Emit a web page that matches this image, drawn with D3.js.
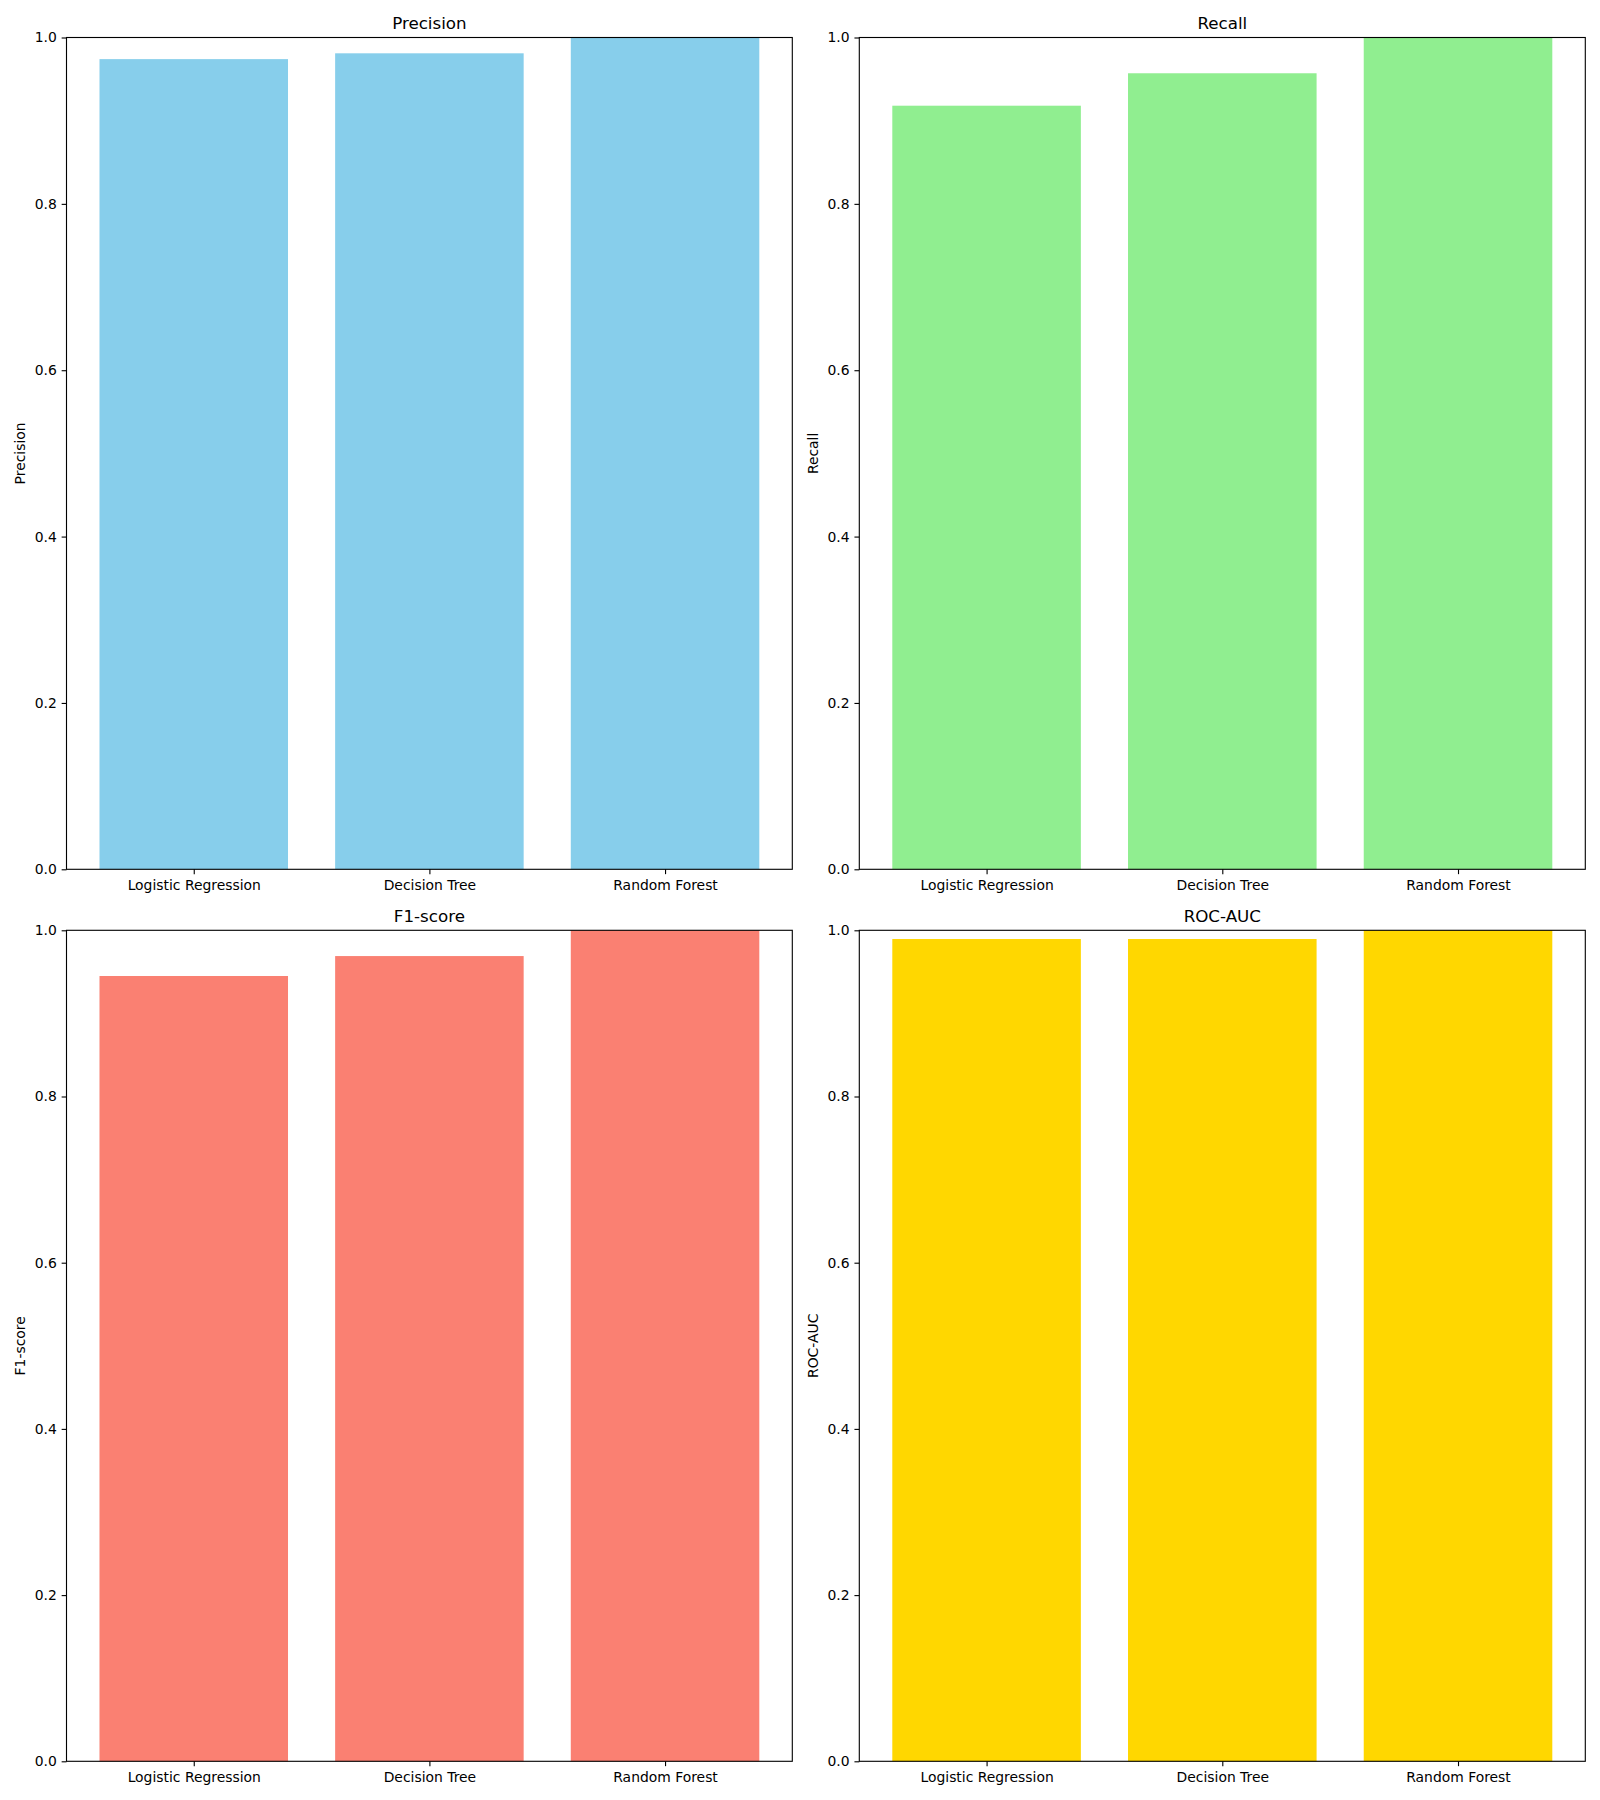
<!DOCTYPE html>
<html><head><meta charset="utf-8">
<script src="https://cdn.jsdelivr.net/npm/d3@7"></script>
<style>body{margin:0;background:#fff}svg{display:block}text{font-family:"DejaVu Sans",sans-serif}</style>
</head><body>
<svg id="c" width="1600" height="1800"></svg>
<script>
const models = ["Logistic Regression", "Decision Tree", "Random Forest"];
const metrics = ["Precision", "Recall", "F1-score", "ROC-AUC"];
const precision = [0.974, 0.981, 1.0];
const recall = [0.918, 0.957, 1.0];
const f1score = [0.945, 0.969, 1.0];
const rocauc = [0.9895, 0.9895, 1.0];
const yTicks = [0.0, 0.2, 0.4, 0.6, 0.8, 1.0];
const colors = ["#87CEEB", "#90EE90", "#FA8072", "#FFD700"];
const seriesValues = [precision, recall, f1score, rocauc];

const panels = [
  {x0: 66.5, x1: 792.3, y0: 37.5, y1: 869.3},
  {x0: 859.3, x1: 1585.3, y0: 37.5, y1: 869.3},
  {x0: 66.5, x1: 792.3, y0: 930.3, y1: 1761.3},
  {x0: 859.3, x1: 1585.3, y0: 930.3, y1: 1761.3}
];
const svg = d3.select("#c");
const tickLen = 4.86, pad = 4.86, fs = 13.9;

metrics.forEach((m, i) => {
  const p = panels[i];
  const vals = seriesValues[i];
  const x = d3.scaleLinear().domain([-0.54, 2.54]).range([p.x0, p.x1]);
  const y = d3.scaleLinear().domain([0, 1]).range([p.y1, p.y0]);
  const g = svg.append("g");
  const bw = x(0.8) - x(0);
  g.selectAll("rect.bar").data(vals).enter().append("rect")
    .attr("class", "bar")
    .attr("x", (d, j) => x(j - 0.4))
    .attr("width", bw)
    .attr("y", d => y(d))
    .attr("height", d => y(0) - y(d))
    .attr("fill", colors[i]);
  // axes
  const ya = d3.axisLeft(y).tickValues(yTicks).tickFormat(d3.format(".1f")).tickSize(tickLen).tickPadding(pad);
  const yg = g.append("g").attr("transform", `translate(${p.x0},0)`).call(ya);
  const xa = d3.axisBottom(x).tickValues([0, 1, 2]).tickFormat(j => models[j]).tickSize(tickLen).tickPadding(pad);
  const xg = g.append("g").attr("transform", `translate(0,${p.y1})`).call(xa);
  [yg, xg].forEach(a => {
    a.select(".domain").remove();
    a.selectAll("line").attr("stroke", "#000").attr("stroke-width", 1.11);
    a.selectAll("text").attr("font-size", fs).attr("fill", "#000").attr("font-family", "DejaVu Sans");
  });
  xg.selectAll("text").attr("dy", "0.76em");
  g.append("rect").attr("x", p.x0).attr("y", p.y0).attr("width", p.x1 - p.x0).attr("height", p.y1 - p.y0)
    .attr("fill", "none").attr("stroke", "#000").attr("stroke-width", 1.11);
  g.append("text").attr("x", (p.x0 + p.x1) / 2).attr("y", p.y0 - 8.8)
    .attr("text-anchor", "middle").attr("font-size", 16.7).text(m);
  g.append("text").attr("transform", `translate(${p.x0 - 41.5},${(p.y0 + p.y1) / 2}) rotate(-90)`)
    .attr("text-anchor", "middle").attr("font-size", fs).text(m);
});
</script>
</body></html>
